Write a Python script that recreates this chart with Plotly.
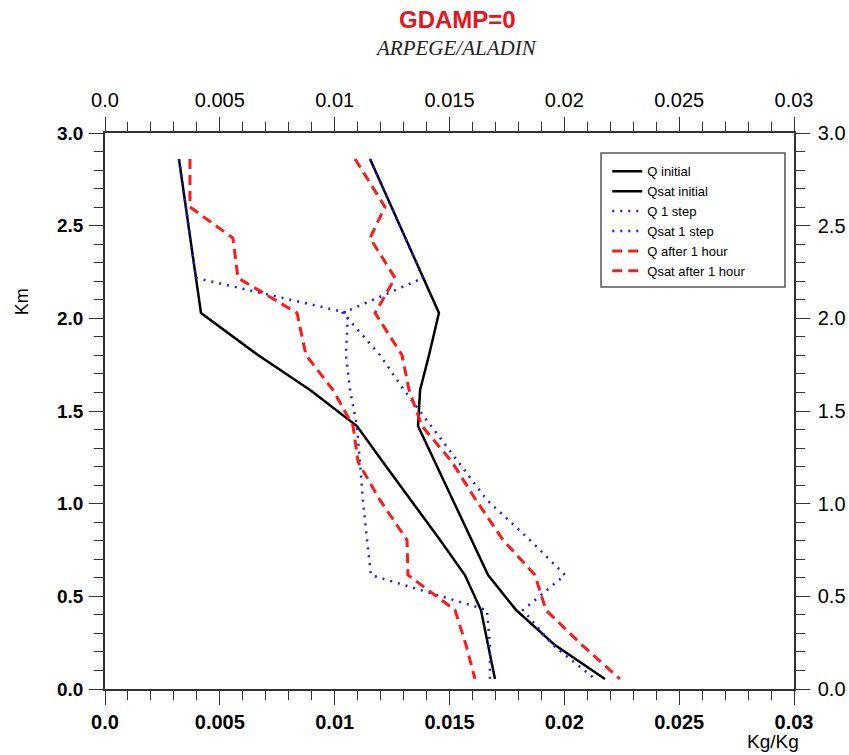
import numpy as np
import plotly.graph_objects as go

# Heights (km) of the model levels
levels_km = [2.860, 2.601, 2.433, 2.218, 2.029, 1.802, 1.613, 1.419, 1.225,
             1.020, 0.804, 0.615, 0.426, 0.237, 0.054]

q_initial = [0.00322, 0.00353, 0.00370, 0.00396, 0.00418, 0.00666, 0.00893,
             0.01097, 0.01210, 0.01332, 0.01459, 0.01567, 0.01637, 0.01668, 0.01698]
qsat_initial = [0.01154, 0.01247, 0.01306, 0.01385, 0.01454, 0.01411, 0.01372,
                0.01363, 0.01437, 0.01515, 0.01596, 0.01668, 0.01790, 0.01959, 0.02177]
q_1step = [0.00322, 0.00353, 0.00370, 0.00396, 0.01058, 0.01049, 0.01067,
           0.01097, 0.01110, 0.01123, 0.01141, 0.01158, 0.01663, 0.01676, 0.01676]
qsat_1step = [0.01154, 0.01247, 0.01306, 0.01385, 0.01036, 0.01197, 0.01302,
              0.01419, 0.01537, 0.01663, 0.01850, 0.02003, 0.01820, 0.01950, 0.02134]
q_1hour = [0.00370, 0.00370, 0.00557, 0.00579, 0.00836, 0.00875, 0.00993,
           0.01080, 0.01102, 0.01197, 0.01315, 0.01319, 0.01524, 0.01572, 0.01611]
qsat_1hour = [0.01089, 0.01219, 0.01154, 0.01263, 0.01176, 0.01293, 0.01324,
              0.01380, 0.01511, 0.01615, 0.01733, 0.01872, 0.01920, 0.02077, 0.02242]

series_names = ["Q initial", "Qsat initial", "Q 1 step", "Qsat 1 step",
                "Q after 1 hour", "Qsat after 1 hour"]

x_tickvals = [0.0, 0.005, 0.01, 0.015, 0.02, 0.025, 0.03]
x_ticktext = ["0.0", "0.005", "0.01", "0.015", "0.02", "0.025", "0.03"]
y_tickvals = [0.0, 0.5, 1.0, 1.5, 2.0, 2.5, 3.0]
y_ticktext = ["0.0", "0.5", "1.0", "1.5", "2.0", "2.5", "3.0"]

FONT = "Liberation Sans"
AX = "#333333"

styles = [
    dict(color="black", width=2.5, dash="solid"),
    dict(color="black", width=2.5, dash="solid"),
    dict(color="#1a1aff", width=2.5, dash="2px,6px"),
    dict(color="#1a1aff", width=2.5, dash="2px,6px"),
    dict(color="#ff1a1a", width=3, dash="10px,6px"),
    dict(color="#ff1a1a", width=3, dash="10px,6px"),
]
data = [q_initial, qsat_initial, q_1step, qsat_1step, q_1hour, qsat_1hour]

fig = go.Figure()
for name, vals, st in zip(series_names, data, styles):
    fig.add_trace(go.Scatter(x=vals, y=levels_km, mode="lines", name=name,
                             line=st, hoverinfo="skip"))

# invisible trace to activate the mirrored top/right axes
fig.add_trace(go.Scatter(x=[0], y=[0], xaxis="x2", yaxis="y2", mode="markers",
                         marker=dict(opacity=0), showlegend=False, hoverinfo="skip"))

minor_x = dict(tickmode="linear", tick0=0, dtick=0.001, ticks="outside",
               ticklen=9, tickwidth=1.3, tickcolor=AX, showgrid=False)
minor_y = dict(tickmode="linear", tick0=0, dtick=0.1, ticks="outside",
               ticklen=9, tickwidth=1.3, tickcolor=AX, showgrid=False)

common = dict(showgrid=False, zeroline=False, showline=True, linecolor=AX,
              linewidth=1.5, ticks="outside", ticklen=14, tickwidth=1.3,
              tickcolor=AX, tickmode="array", automargin=False)

fig.update_layout(
    width=849, height=755,
    margin=dict(l=105, r=55, t=133, b=66, autoexpand=False),
    paper_bgcolor="white", plot_bgcolor="white",
    xaxis=dict(range=[0, 0.03], tickvals=x_tickvals, ticktext=x_ticktext,
               tickfont=dict(family=FONT, size=20, color="black", weight="bold"),
               ticklabelstandoff=0, minor=minor_x, **common),
    xaxis2=dict(range=[0, 0.03], tickvals=x_tickvals, ticktext=x_ticktext,
                overlaying="x", side="top", anchor="y",
                tickfont=dict(family=FONT, size=20, color="black"),
                ticklabelstandoff=2, minor=minor_x, **common),
    yaxis=dict(range=[0, 3], tickvals=y_tickvals, ticktext=y_ticktext,
               tickfont=dict(family=FONT, size=19, color="black", weight="bold"),
               ticklabelstandoff=2, minor=minor_y, **common),
    yaxis2=dict(range=[0, 3], tickvals=y_tickvals, ticktext=y_ticktext,
                overlaying="y", side="right", anchor="x",
                tickfont=dict(family=FONT, size=20, color="black"),
                ticklabelstandoff=4, minor=minor_y, **common),
    showlegend=True,
    legend=dict(x=0.729, y=0.958, xanchor="left", yanchor="top",
                bgcolor="rgba(0,0,0,0)", borderwidth=0,
                font=dict(family=FONT, size=13, color="black"),
                tracegroupgap=0),
    shapes=[dict(type="rect", xref="paper", yref="paper",
                 x0=0.7199, x1=0.9869, y0=0.723, y1=0.964,
                 line=dict(color="#555555", width=1.5), fillcolor="rgba(0,0,0,0)")],
    annotations=[
        dict(text="<b>GDAMP=0</b>", x=0.511, y=1.205, xref="paper", yref="paper",
             xanchor="center", yanchor="middle",
             showarrow=False, font=dict(family=FONT, size=24, color="#e8141c")),
        dict(text="<i>ARPEGE/ALADIN</i>", x=0.509, y=1.153, xref="paper", yref="paper",
             xanchor="center", yanchor="middle",
             showarrow=False, font=dict(family="Liberation Serif", size=21, color="#222")),
        dict(text="Km", x=-0.12, y=0.696, xref="paper", yref="paper", textangle=-90,
             xanchor="center", yanchor="middle",
             showarrow=False, font=dict(family=FONT, size=18, color="black")),
        dict(text="Kg/Kg", x=0.970, y=-0.0953, xref="paper", yref="paper",
             xanchor="center", yanchor="middle",
             showarrow=False, font=dict(family=FONT, size=19, color="black")),
    ],
)

fig.write_html("out.html")
